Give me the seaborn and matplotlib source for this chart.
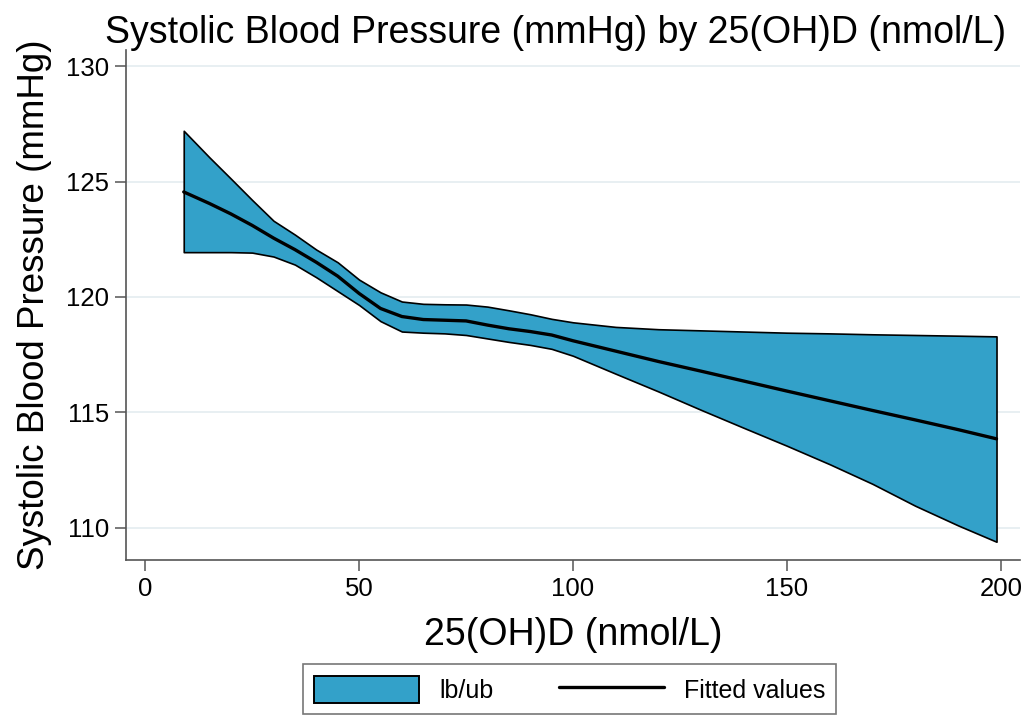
import matplotlib
matplotlib.use("Agg")
import matplotlib.pyplot as plt
import seaborn as sns
import pandas as pd
from matplotlib.patches import Patch
from matplotlib.lines import Line2D

# values
vitd = [9, 15, 20, 25, 30, 35, 40, 45, 50, 55, 60, 65, 70, 75, 80, 85, 90, 95,
        100, 110, 120, 130, 140, 150, 160, 170, 180, 190, 199]
upper = [127.2, 126.05, 125.13, 124.2, 123.3, 122.7, 122.05, 121.5, 120.75, 120.2,
         119.8, 119.7, 119.68, 119.67, 119.58, 119.42, 119.25, 119.05,
         118.9, 118.7, 118.6, 118.55, 118.5, 118.45, 118.42, 118.38, 118.35, 118.32, 118.29]
lower = [121.94, 121.94, 121.94, 121.92, 121.75, 121.4, 120.85, 120.25, 119.65, 118.95,
         118.5, 118.45, 118.42, 118.35, 118.2, 118.05, 117.92, 117.75,
         117.45, 116.67, 115.9, 115.1, 114.32, 113.55, 112.75, 111.9, 110.95, 110.1, 109.39]
fitted = [124.55, 124.05, 123.6, 123.1, 122.55, 122.05, 121.5, 120.9, 120.15, 119.5,
          119.15, 119.02, 118.99, 118.96, 118.78, 118.62, 118.5, 118.35,
          118.1, 117.65, 117.2, 116.78, 116.35, 115.92, 115.5, 115.08, 114.67, 114.25, 113.85]
x_ticks = [0, 50, 100, 150, 200]
y_ticks = [110, 115, 120, 125, 130]

df = pd.DataFrame({"vitd": vitd, "lb": lower, "ub": upper, "fit": fitted})

sns.set_theme(style="white")
plt.rcParams["font.family"] = ["Liberation Sans", "DejaVu Sans"]
plt.rcParams["text.color"] = "black"
plt.rcParams["axes.labelcolor"] = "black"

BAND = "#33a1c9"
GRID = "#e6eef1"

fig = plt.figure(figsize=(10.36, 7.28), dpi=100)
ax = fig.add_axes([0.1216, 0.2308, 0.863, 0.7005])

ax.fill_between(df["vitd"], df["lb"], df["ub"], facecolor=BAND,
                edgecolor="black", linewidth=1.2, zorder=2)
sns.lineplot(data=df, x="vitd", y="fit", color="black", linewidth=2.4,
             ax=ax, zorder=3)

ax.set_xlim(-4.5, 204.5)
ax.set_ylim(108.6, 130.7)
ax.set_xticks(x_ticks)
ax.set_yticks(y_ticks)
ax.yaxis.grid(True, color=GRID, linewidth=1.3, zorder=0)
ax.xaxis.grid(False)
ax.set_axisbelow(True)

for side in ["top", "right"]:
    ax.spines[side].set_visible(False)
for side in ["left", "bottom"]:
    ax.spines[side].set_color("#555555")
    ax.spines[side].set_linewidth(1.2)

ax.tick_params(axis="both", direction="out", length=8, width=1.1,
               color="#555555", labelsize=18.5, labelcolor="black", pad=4)
ax.tick_params(axis="both", which="both", bottom=True, left=True)

ax.set_xlabel("25(OH)D (nmol/L)", fontsize=27, labelpad=12)
ax.set_ylabel("Systolic Blood Pressure (mmHg)", fontsize=26.5, labelpad=10)
fig.text(0.536, 0.955, "Systolic Blood Pressure (mmHg) by 25(OH)D (nmol/L)",
         fontsize=27, ha="center", va="center")

handles = [Patch(facecolor=BAND, edgecolor="black", linewidth=1.4),
           Line2D([0], [0], color="black", linewidth=2.4)]
leg = fig.legend(handles, ["lb/ub", "Fitted values"], loc="lower center",
                 bbox_to_anchor=(0.55, 0.002), ncol=2, fontsize=18,
                 frameon=True, fancybox=False, handlelength=4.2,
                 handleheight=1.3, columnspacing=2.6, handletextpad=0.8,
                 borderpad=0.45)
leg.get_frame().set_edgecolor("#555555")
leg.get_frame().set_linewidth(1.2)

fig.savefig("out.png", dpi=100)
